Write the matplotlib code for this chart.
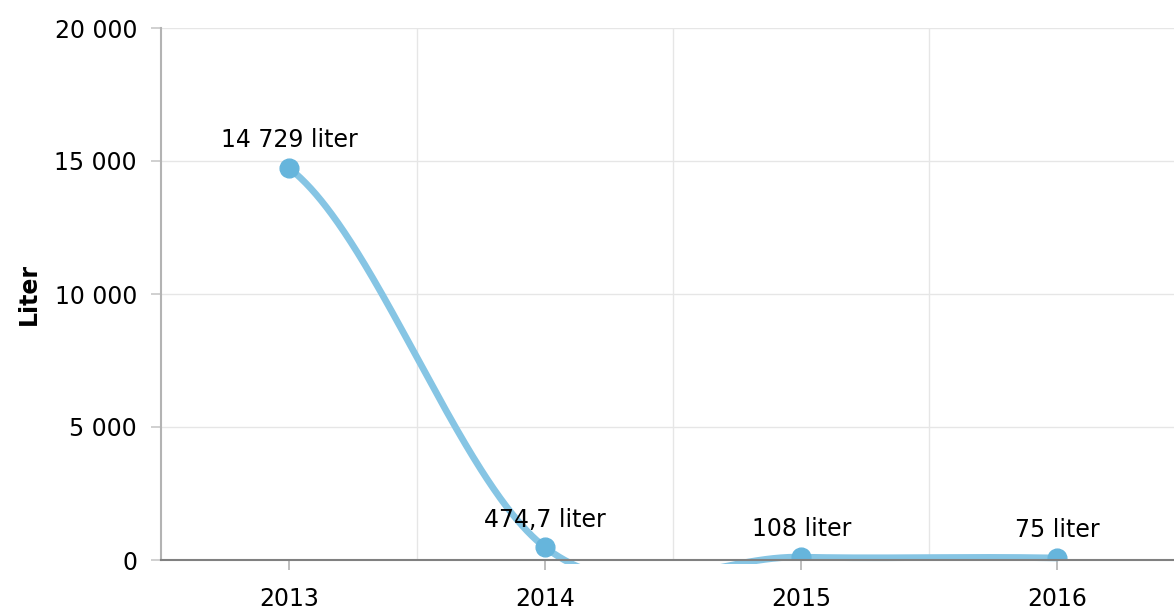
import numpy as np
import matplotlib
matplotlib.use("Agg")
import matplotlib.pyplot as plt
from matplotlib.ticker import FuncFormatter
from matplotlib.transforms import Bbox, TransformedBbox

#==============================================================================
# Data
#==============================================================================

years = ["2013", "2014", "2015", "2016"]
liters = [14729, 474.7, 108, 75]
value_labels = ["14 729 liter", "474,7 liter", "108 liter", "75 liter"]
y_ticks = [0, 5000, 10000, 15000, 20000]

#==============================================================================
# Functions
#==============================================================================

def spline_points(xs, ys, n=200):
    """
    Cubic Hermite curve through the points, Catmull-Rom slopes inside,
    end slopes copied from the neighbour point
    """
    xs = np.asarray(xs, float)
    ys = np.asarray(ys, float)
    k = len(xs)
    m = np.zeros(k)
    for i in range(1, k - 1):
        m[i] = (ys[i + 1] - ys[i - 1]) / (xs[i + 1] - xs[i - 1])
    m[0] = m[1]
    m[-1] = m[-2]
    px, py = [], []
    t = np.linspace(0, 1, n)
    for i in range(k - 1):
        h = xs[i + 1] - xs[i]
        h00 = 2 * t ** 3 - 3 * t ** 2 + 1
        h10 = t ** 3 - 2 * t ** 2 + t
        h01 = -2 * t ** 3 + 3 * t ** 2
        h11 = t ** 3 - t ** 2
        px.extend(xs[i] + t * h)
        py.extend(h00 * ys[i] + h10 * h * m[i] + h01 * ys[i + 1]
                  + h11 * h * m[i + 1])
    return np.array(px), np.array(py)

def thousands(v, pos):
    return "{:,.0f}".format(v).replace(",", " ")

#==============================================================================
# Plot
#==============================================================================

plt.rcParams["font.family"] = "DejaVu Sans"

W, H = 1174, 609
fig = plt.figure(figsize=(W / 100, H / 100), dpi=100)
ax = fig.add_axes([161 / W, (H - 560) / H, (1185.5 - 161) / W, (560 - 28) / H])

x = np.arange(len(years))
sx, sy = spline_points(x, liters)

line, = ax.plot(sx, sy, color="#86c5e4", lw=4.8, solid_capstyle="round",
                zorder=2)
# the curve may run a few pixels under the x axis before it is cut
line.set_clip_box(TransformedBbox(Bbox([[0, -3.5 / 532], [1, 1]]),
                                  ax.transAxes))
ax.plot(x, liters, "o", color="#66b5dc", ms=13.5, zorder=3)

for xi, yi, lab in zip(x, liters, value_labels):
    ax.annotate(lab, (xi, yi), xytext=(0, 15), textcoords="offset points",
                ha="center", va="baseline", fontsize=17, color="#000000")

ax.set_xlim(-0.5, len(years) - 0.5)
ax.set_ylim(0, 20000)
ax.set_xticks(x)
ax.set_xticklabels(years)
ax.set_yticks(y_ticks)
ax.yaxis.set_major_formatter(FuncFormatter(thousands))

ax.grid(axis="y", color="#e6e6e6", lw=1)
for b in x[:-1] + 0.5:
    ax.axvline(b, color="#e6e6e6", lw=1, zorder=0)
ax.set_axisbelow(True)

for s in ["top", "right"]:
    ax.spines[s].set_visible(False)
ax.spines["left"].set_color("#b3b3b3")
ax.spines["left"].set_linewidth(1.5)
ax.spines["bottom"].set_color("#808080")
ax.spines["bottom"].set_linewidth(1.5)
ax.spines["bottom"].set_zorder(4)

ax.tick_params(axis="x", length=7.2, width=1.2, color="#b3b3b3", pad=12,
               labelsize=17)
ax.tick_params(axis="y", length=7.2, width=1.2, color="#c8c8c8", pad=10,
               labelsize=17)

fig.text(29 / W, 1 - 294 / H, "Liter", rotation=90, ha="center",
         va="center", fontsize=17, fontweight="bold")

fig.savefig("out.png", dpi=100)
